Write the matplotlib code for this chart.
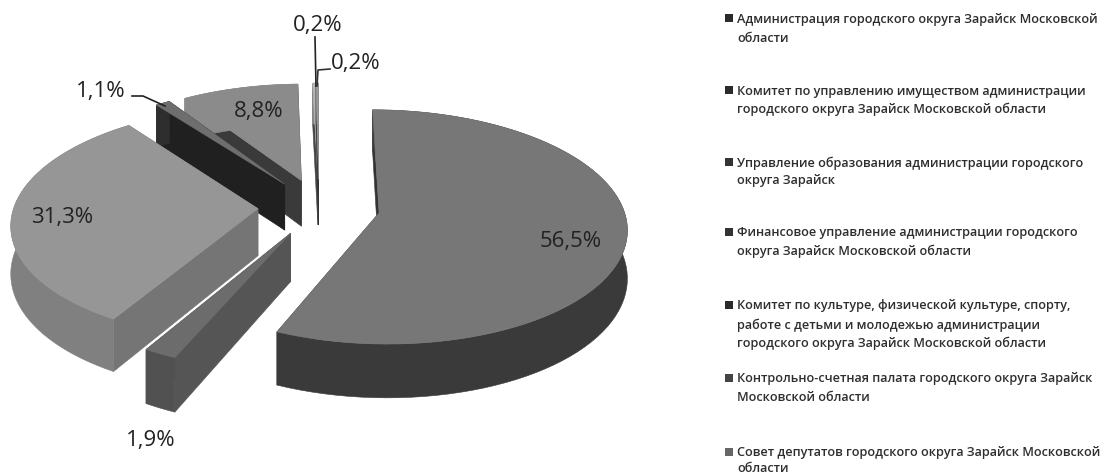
import numpy as np
import matplotlib
matplotlib.use('Agg')
import matplotlib.pyplot as plt
from matplotlib.patches import Polygon

# --- dados ---
shares = [56.5, 1.9, 31.3, 1.1, 8.8, 0.2, 0.2]
top_colors = ['#777777', '#6c6c6c', '#969696', '#6e6e6e', '#8b8b8b', '#b5b5b5', '#9a9a9a']
rim_colors = ['#3a3a3a', '#515151', '#808080', '#2e2e2e', '#8b8b8b', '#8a8a8a', '#5a5a5a']
side_colors = ['#333333', '#555555', '#757575', '#202020', '#3a3a3a', '#444444', '#333333']
draw_order = [4, 5, 6, 3, 2, 1, 0]

label_text = ['56,5%', '1,9%', '31,3%', '1,1%', '8,8%', '0,2%', '0,2%']
label_x = [571, 151, 62, 101, 259, 318, 356]
label_y = [242, 441, 218, 91, 111, 26, 63]

legend_lines = [
    ['Администрация городского округа Зарайск Московской', 'области'],
    ['Комитет по управлению имуществом администрации', 'городского округа Зарайск Московской области'],
    ['Управление образования администрации городского', 'округа Зарайск'],
    ['Финансовое управление администрации городского', 'округа Зарайск Московской области'],
    ['Комитет по культуре, физической культуре, спорту,', 'работе с детьми и молодежью администрации',
     'городского округа Зарайск Московской области'],
    ['Контрольно-счетная палата городского округа Зарайск', 'Московской области'],
    ['Совет депутатов городского округа Зарайск Московской', 'области'],
]
legend_y = [[19, 38], [91, 109], [163, 181], [233, 251], [306, 325, 343], [379, 398], [453, 469]]
marker_colors = ['#2b2b2b', '#2b2b2b', '#333333', '#333333', '#2b2b2b', '#444444', '#666666']

# --- projecao do disco ---
CX, CY = 319, 208
RX, RY = 244, 114
PERSP = 0.12
DEPTH = 47
EXPLODE = 0.25


def project(u, v, down=False):
    s = 1 / (1 + PERSP * v)
    y = CY - RY * v * s
    if down:
        y = y + DEPTH * s
    return np.column_stack([CX + RX * u * s, y])


fig = plt.figure(figsize=(11.08, 4.77), dpi=100)
ax = fig.add_axes([0, 0, 1, 1])
ax.set_xlim(0, 1108)
ax.set_ylim(477, 0)
ax.axis('off')

ends = np.cumsum(shares) / sum(shares) * 2 * np.pi
starts = np.concatenate([[0], ends[:-1]])

for i in draw_order:
    a0, a1 = starts[i], ends[i]
    mid = (a0 + a1) / 2
    ou, ov = EXPLODE * np.sin(mid), EXPLODE * np.cos(mid)
    th = np.linspace(a0, a1, 80)
    u = ou + np.sin(th)
    v = ov + np.cos(th)
    apex_t = project(np.array([ou]), np.array([ov]))
    apex_b = project(np.array([ou]), np.array([ov]), True)
    arc_t = project(u, v)
    arc_b = project(u, v, True)

    # faces radiais, depois a borda, depois o topo
    for end_t, end_b in [(arc_t[0], arc_b[0]), (arc_t[-1], arc_b[-1])]:
        ax.add_patch(Polygon([apex_t[0], end_t, end_b, apex_b[0]], closed=True,
                             fc=side_colors[i], ec=side_colors[i], lw=0.4))
    ax.add_patch(Polygon(np.vstack([arc_t, arc_b[::-1]]), closed=True,
                         fc=rim_colors[i], ec=rim_colors[i], lw=0.4))
    ax.add_patch(Polygon(np.vstack([apex_t, arc_t]), closed=True,
                         fc=top_colors[i], ec=top_colors[i], lw=0.4))

# linhas de chamada
ax.plot([315, 316], [38, 87], color='#222222', lw=1.2)
ax.plot([330, 318, 317], [70, 71, 87], color='#333333', lw=1.2)
ax.plot([132, 143, 165], [97, 97, 107], color='#222222', lw=1.2)

for t, x, y in zip(label_text, label_x, label_y):
    ax.text(x, y, t, ha='center', va='center', fontsize=16, family='Open Sans', color='#222222')

for lines, ys, mc in zip(legend_lines, legend_y, marker_colors):
    ax.scatter([729], [ys[0]], marker='s', s=26, color=mc, linewidths=0)
    for line, y in zip(lines, ys):
        ax.text(737, y, line, ha='left', va='center', fontsize=9.1, family='Open Sans',
                fontweight='semibold', color='#2e2e2e')

plt.savefig('out.png', dpi=100)
